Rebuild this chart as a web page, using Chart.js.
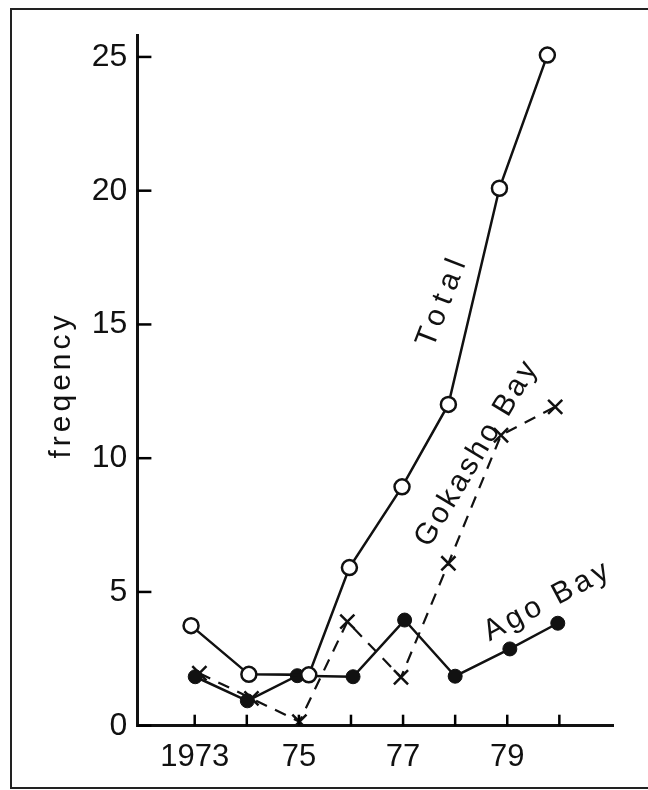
<!DOCTYPE html>
<html>
<head>
<meta charset="utf-8">
<script src="https://cdn.jsdelivr.net/npm/chart.js@4/dist/chart.umd.min.js"></script>
<style>
  html, body { margin: 0; padding: 0; background: #fff; }
  #wrap { width: 648px; height: 790px; position: relative; }
</style>
</head>
<body>
<div id="wrap"><canvas id="chart"></canvas></div>
<script>
// years on the axis, and where each series' marks sit (hand-drawn, slightly off the year)
const years = [1973, 1974, 1975, 1976, 1977, 1978, 1979, 1980]
const yearLabels = { 1973: '1973', 1975: '75', 1977: '77', 1979: '79' }
const freqTicks = [0, 5, 10, 15, 20, 25]

const totalYears  = [1972.93, 1974.04, 1975.19, 1975.97, 1976.98, 1977.87, 1978.85, 1979.77]
const totalValues = [3.74, 1.92, 1.90, 5.91, 8.93, 12.01, 20.09, 25.07]

const gokashoYears  = [1973.09, 1974.09, 1975.01, 1975.93, 1976.96, 1977.87, 1978.88, 1979.92]
const gokashoValues = [1.96, 1.02, 0.15, 3.89, 1.81, 6.07, 10.86, 11.92]

const agoYears  = [1973.01, 1974.01, 1974.97, 1976.04, 1977.03, 1978.00, 1979.05, 1979.97]
const agoValues = [1.83, 0.93, 1.87, 1.83, 3.95, 1.85, 2.87, 3.83]

const ink = '#111'
const pts = (xs, ys) => xs.map((x, i) => ({ x, y: ys[i] }))

// hand-lettered labels along the lines
const notes = [
    { text: 'Total',       x: 443, y: 300, angle: -69, spacing: 7 },
    { text: 'Gokasho Bay', x: 477, y: 453, angle: -59, spacing: 3 },
    { text: 'Ago Bay',     x: 548, y: 601, angle: -28, spacing: 4 },
    { text: 'freqency',    x: 62,  y: 385, angle: -90, spacing: 4 },
]

const decor = {
    id: 'decor',
    afterDatasetsDraw(chart) {
        const ctx = chart.ctx
        const xs = chart.scales.x
        const ys = chart.scales.y
        const area = chart.chartArea
        ctx.save()
        ctx.strokeStyle = '#222'
        ctx.lineWidth = 2
        ctx.strokeRect(11, 9, 700, 779)

        // tick marks point inward from the axes
        ctx.strokeStyle = '#000'
        ctx.lineWidth = 2.5
        ctx.setLineDash([])
        for (const v of years) {
            const px = xs.getPixelForValue(v)
            ctx.beginPath()
            ctx.moveTo(px, area.bottom)
            ctx.lineTo(px, area.bottom - 11)
            ctx.stroke()
        }
        for (const v of freqTicks) {
            const py = ys.getPixelForValue(v)
            ctx.beginPath()
            ctx.moveTo(area.left, py)
            ctx.lineTo(area.left + 14, py)
            ctx.stroke()
        }

        ctx.fillStyle = ink
        ctx.font = '30px "Liberation Sans", Arial, sans-serif'
        ctx.textAlign = 'center'
        ctx.textBaseline = 'middle'
        for (const n of notes) {
            ctx.save()
            ctx.translate(n.x, n.y)
            ctx.rotate(n.angle * Math.PI / 180)
            ctx.letterSpacing = n.spacing + 'px'
            ctx.fillText(n.text, 0, 0)
            ctx.restore()
        }
        ctx.restore()
    }
}

new Chart(document.getElementById('chart'), {
    type: 'line',
    data: {
        datasets: [
            {
                label: 'Total', data: pts(totalYears, totalValues), order: 0,
                borderColor: ink, borderWidth: 2.5,
                pointStyle: 'circle', pointRadius: 7.5,
                pointBackgroundColor: '#fff', pointBorderColor: ink, pointBorderWidth: 2.5,
            },
            {
                label: 'Gokasho Bay', data: pts(gokashoYears, gokashoValues), order: 2,
                borderColor: ink, borderWidth: 2.2, borderDash: [12, 9],
                pointStyle: 'crossRot', pointRadius: 10,
                pointBorderColor: ink, pointBorderWidth: 2.5,
            },
            {
                label: 'Ago Bay', data: pts(agoYears, agoValues), order: 1,
                borderColor: ink, borderWidth: 2.5,
                pointStyle: 'circle', pointRadius: 7,
                pointBackgroundColor: ink, pointBorderColor: ink, pointBorderWidth: 1,
            },
        ]
    },
    options: {
        responsive: true,
        maintainAspectRatio: false,
        animation: false,
        layout: { padding: { left: 0, right: 35, top: 35, bottom: 0 } },
        plugins: { legend: { display: false }, tooltip: { enabled: false } },
        elements: { line: { tension: 0 } },
        scales: {
            x: {
                type: 'linear',
                min: 1971.9, max: 1981.03,
                afterBuildTicks: s => { s.ticks = years.map(v => ({ value: v })) },
                afterFit: s => { s.height = 64.3 },
                ticks: {
                    color: ink, padding: 13, maxRotation: 0, autoSkip: false,
                    font: { family: '"Liberation Sans", Arial, sans-serif', size: 31 },
                    callback: v => yearLabels[v] || '',
                },
                grid: { drawOnChartArea: false, drawTicks: false },
                border: { color: ink, width: 3 },
            },
            y: {
                min: 0, max: 25.82,
                afterBuildTicks: s => { s.ticks = freqTicks.map(v => ({ value: v })) },
                afterFit: s => { s.width = 137.4 },
                ticks: {
                    color: ink, padding: 10,
                    font: { family: '"Liberation Sans", Arial, sans-serif', size: 32 },
                },
                grid: { drawOnChartArea: false, drawTicks: false },
                border: { color: ink, width: 3 },
            }
        }
    },
    plugins: [decor]
})
</script>
</body>
</html>
